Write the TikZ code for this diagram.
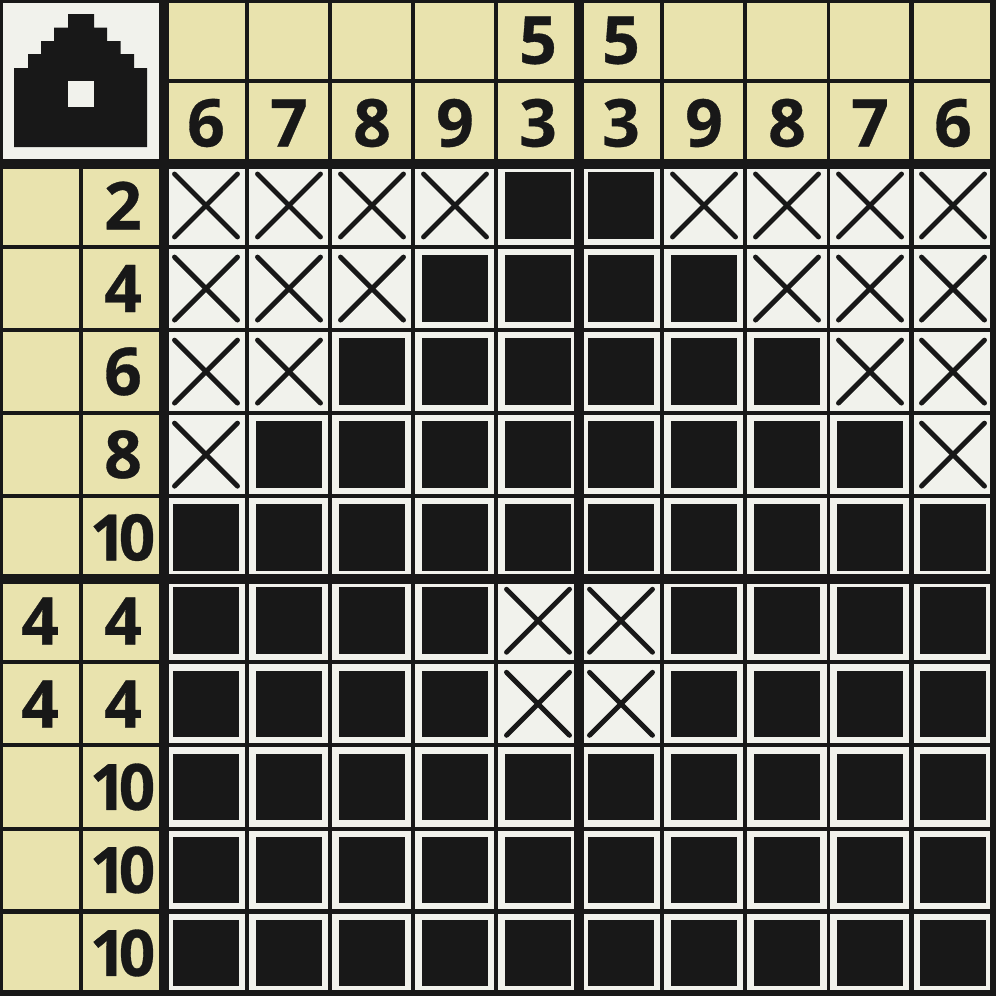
\documentclass[tikz,border=0pt]{standalone}
\usepackage{fontspec}
\setmainfont[BoldFeatures={FakeBold=0.5}]{Open Sans}
\definecolor{ink}{HTML}{181818}
\definecolor{clue}{HTML}{E9E3AE}
\definecolor{paper}{HTML}{F1F2EC}
\tikzset{
  numeral/.style={text=ink,inner sep=0pt,anchor=center,font=\fontsize{66}{66}\selectfont\bfseries},
  tight/.style={numeral,font=\fontsize{64}{64}\selectfont\bfseries\addfontfeature{LetterSpace=-12}},
  filled/.style={fill=ink},
  crossmark/.style={draw=ink,line width=4.9pt,line cap=round}
}
\begin{document}
\begin{tikzpicture}[x=1pt,y=-1pt]
\useasboundingbox (0,0) rectangle (996,996);
\fill[ink] (0,0) rectangle (996,996);
% header corner
\fill[paper] (3,3) rectangle (159,159);
\fill[ink] (68,14) rectangle (94,28) (54,27.6) rectangle (107,41.5) (41,41) rectangle (120.7,54.5)
  (28,54) rectangle (134,68.5) (14,68) rectangle (147,147);
\fill[paper] (68,81) rectangle (94,107);
% clue cells: top
\foreach \xa/\xb in {169/245,249.3/328.3,332.3/411,415.3/494,498.3/574.3,584.3/660.3,664.3/743.3,747.3/826.7,830.3/909.3,913.7/989.7}{
  \fill[clue] (\xa,3) rectangle (\xb,79);
  \fill[clue] (\xa,83) rectangle (\xb,159);
}
% clue cells: left, and grid cells
\foreach \ya/\yb in {169/245,249/328,332/411,415.3/494.3,498.3/574.3,584.3/660.3,664.3/743.3,747.3/826.7,830.5/909.3,913.7/989.5}{
  \fill[clue] (3,\ya) rectangle (79,\yb);
  \fill[clue] (83,\ya) rectangle (159,\yb);
  \foreach \xa/\xb in {169/245,249.3/328.3,332.3/411,415.3/494,498.3/574.3,584.3/660.3,664.3/743.3,747.3/826.7,830.3/909.3,913.7/989.7}{
    \fill[paper] (\xa,\ya) rectangle (\xb,\yb);
  }
}
% solution marks
\foreach \rowvals [count=\r from 0] in {
  {0,0,0,0,1,1,0,0,0,0},
  {0,0,0,1,1,1,1,0,0,0},
  {0,0,1,1,1,1,1,1,0,0},
  {0,1,1,1,1,1,1,1,1,0},
  {1,1,1,1,1,1,1,1,1,1},
  {1,1,1,1,0,0,1,1,1,1},
  {1,1,1,1,0,0,1,1,1,1},
  {1,1,1,1,1,1,1,1,1,1},
  {1,1,1,1,1,1,1,1,1,1},
  {1,1,1,1,1,1,1,1,1,1}}{
  \foreach \v [count=\c from 0] in \rowvals {
    \pgfmathsetmacro{\cx}{206+83*\c}
    \pgfmathsetmacro{\cy}{205.5+83.05*\r}
    \ifnum\v=1
      \fill[filled] (\cx-33.3,\cy-33.3) rectangle (\cx+33.3,\cy+33.3);
    \else
      \draw[crossmark] (\cx-31.5,\cy-31.5) -- (\cx+31.5,\cy+31.5);
      \draw[crossmark] (\cx+31.5,\cy-31.5) -- (\cx-31.5,\cy+31.5);
    \fi
  }
}
% column clues
\foreach \t/\px [count=\i] in {6/206,7/289,8/372,9/455,3/538,3/621,9/704,8/787,7/870,6/953}{
  \node[numeral] (top\i) at (\px,123) {\t};
}
\node[numeral] (topa) at (538,40.5) {5};
\node[numeral] (topb) at (621,40.5) {5};
% row clues
\node[numeral] (rowa) at (123,205.5) {2};
\node[numeral] (rowb) at (123,288.5) {4};
\node[numeral] (rowc) at (123,371.5) {6};
\node[numeral] (rowd) at (123,454.5) {8};
\node[tight] (rowe) at (122.5,537.5) {10};
\node[numeral] (rowf) at (123,621) {4};
\node[numeral] (rowg) at (123,704) {4};
\node[numeral] (rowh) at (40,621) {4};
\node[numeral] (rowi) at (40,704) {4};
\node[tight] (rowj) at (122.5,787) {10};
\node[tight] (rowk) at (122.5,870) {10};
\node[tight] (rowl) at (122.5,953) {10};
\end{tikzpicture}
\end{document}
